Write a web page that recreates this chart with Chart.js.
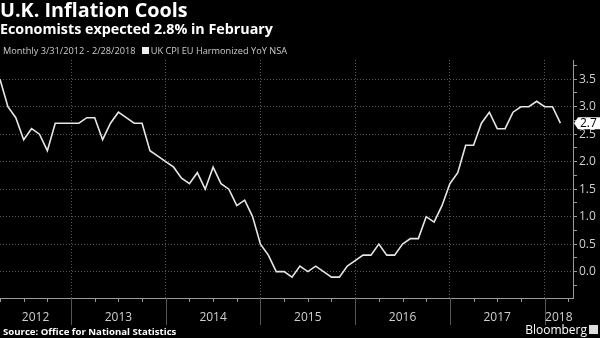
<!DOCTYPE html>
<html>
<head>
<meta charset="utf-8">
<script src="https://cdn.jsdelivr.net/npm/chart.js@4.4.1/dist/chart.umd.min.js"></script>
<style>
  body { margin: 0; background: #000; }
  #wrap { position: relative; width: 600px; height: 338px; background: #000; overflow: hidden; font-family: "Open Sans", sans-serif; color: #fff; }
  #wrap canvas { position: absolute; left: 0; top: 0; }
  .txt { position: absolute; white-space: nowrap; }
  #title { left: 0; top: 0; font-size: 19.8px; line-height: 19px; font-weight: 700; }
  #subtitle { left: 0; top: 22px; font-size: 14.3px; line-height: 14px; font-weight: 700; }
  #legend { left: 3px; top: 45px; font-size: 9.2px; line-height: 11px; color: #ccc; }
  #legend .sq { display: inline-block; width: 7px; height: 7px; background: #eee; margin: 0 2px 0 4px; }
  #source { left: 3px; top: 326px; font-size: 9.6px; line-height: 11px; font-weight: 700; }
  #brand { right: 13px; top: 323px; font-size: 12px; line-height: 14px; }
  #logo { position: absolute; right: 2px; top: 325px; width: 9px; height: 9px; background: #ddd; }
</style>
</head>
<body>
<div id="wrap">
  <canvas id="chart1" width="600" height="338"></canvas>
  <div class="txt" id="title">U.K. Inflation Cools</div>
  <div class="txt" id="subtitle">Economists expected 2.8% in February</div>
  <div class="txt" id="legend">Monthly 3/31/2012 - 2/28/2018 <span class="sq"></span>UK CPI EU Harmonized YoY NSA</div>
  <div class="txt" id="source">Source: Office for National Statistics</div>
  <div class="txt" id="brand">Bloomberg</div>
  <div id="logo"></div>
</div>
<script>
/************* data ********* */
// UK CPI YoY %, monthly Mar 2012 - Feb 2018
const cpi = [
    3.5, 3.0, 2.8, 2.4, 2.6, 2.5, 2.2, 2.7, 2.7, 2.7,             // 2012 Mar-Dec
    2.7, 2.8, 2.8, 2.4, 2.7, 2.9, 2.8, 2.7, 2.7, 2.2, 2.1, 2.0,   // 2013
    1.9, 1.7, 1.6, 1.8, 1.5, 1.9, 1.6, 1.5, 1.2, 1.3, 1.0, 0.5,   // 2014
    0.3, 0.0, 0.0, -0.1, 0.1, 0.0, 0.1, 0.0, -0.1, -0.1, 0.1, 0.2, // 2015
    0.3, 0.3, 0.5, 0.3, 0.3, 0.5, 0.6, 0.6, 1.0, 0.9, 1.2, 1.6,   // 2016
    1.8, 2.3, 2.3, 2.7, 2.9, 2.6, 2.6, 2.9, 3.0, 3.0, 3.1, 3.0,   // 2017
    3.0, 2.7                                                       // 2018 Jan-Feb
];
const years = ["2012", "2013", "2014", "2015", "2016", "2017", "2018"];
const firstMonth = 3; // March
const yTicks = [-0.25, 0, 0.25, 0.5, 0.75, 1, 1.25, 1.5, 1.75, 2, 2.25, 2.5, 2.75, 3, 3.25, 3.5, 3.75];

const lineColor = '#e6e6e6';
const gridColor = '#575757';
const axisColor = '#9a9a9a';
const labelColor = '#cfcfcf';

// index of each December point (year boundary)
const yearEnds = years.slice(0, -1).map((_, k) => 12 - firstMonth + 12 * k);
const isMajor = v => Math.abs(v * 2 - Math.round(v * 2)) < 1e-9;

/************* decorations under the x axis + last value tag ********* */
const axisDecor = {
    id: 'axisDecor',
    afterDraw(chart) {
        const {ctx, chartArea: a, scales: {x, y}} = chart;
        ctx.save();
        ctx.lineWidth = 1;

        // quarterly ticks
        ctx.strokeStyle = axisColor;
        for (let i = 0; i <= cpi.length; i += 3) {
            const px = Math.round(x.getPixelForValue(i)) + 0.5;
            ctx.beginPath();
            ctx.moveTo(px, a.bottom);
            ctx.lineTo(px, a.bottom + 4);
            ctx.stroke();
        }

        // year separators
        ctx.strokeStyle = '#555';
        yearEnds.forEach(v => {
            const px = Math.round(x.getPixelForValue(v)) + 0.5;
            ctx.beginPath();
            ctx.moveTo(px, a.bottom);
            ctx.lineTo(px, a.bottom + 27);
            ctx.stroke();
        });

        // year labels centred in their visible span
        ctx.fillStyle = labelColor;
        ctx.font = '12px "Open Sans", sans-serif';
        ctx.textAlign = 'center';
        ctx.textBaseline = 'middle';
        const edges = [a.left, ...yearEnds.map(v => x.getPixelForValue(v)), a.right];
        years.forEach((yr, k) => {
            ctx.fillText(yr, (edges[k] + edges[k + 1]) / 2, a.bottom + 20);
        });

        // last value tag
        const last = cpi[cpi.length - 1];
        const py = y.getPixelForValue(last);
        const bx = a.right + 5;
        ctx.fillStyle = '#fff';
        ctx.beginPath();
        ctx.moveTo(a.right + 1, py);
        ctx.lineTo(bx, py - 6);
        ctx.lineTo(chart.width, py - 6);
        ctx.lineTo(chart.width, py + 6);
        ctx.lineTo(bx, py + 6);
        ctx.closePath();
        ctx.fill();
        ctx.fillStyle = '#000';
        ctx.textAlign = 'left';
        ctx.font = '12px "Open Sans", sans-serif';
        ctx.fillText(last.toFixed(1), bx + 2, py + 0.5);
        ctx.restore();
    }
};

new Chart("chart1", {
    type: "line",
    data: {
        datasets: [{
            data: cpi.map((v, i) => ({x: i, y: v})),
            borderColor: lineColor,
            borderWidth: 1.6,
            pointRadius: 0,
            tension: 0,
            clip: false
        }]
    },
    options: {
        responsive: false,
        animation: false,
        devicePixelRatio: 1,
        layout: {padding: {top: 60, bottom: 40, left: 0, right: 0}},
        plugins: {
            legend: {display: false},
            tooltip: {enabled: false}
        },
        scales: {
            x: {
                type: 'linear',
                min: 0,
                max: 72.6,
                afterBuildTicks: s => { s.ticks = yearEnds.map(v => ({value: v})); },
                ticks: {display: false},
                grid: {color: gridColor, drawTicks: false},
                border: {display: true, color: axisColor, dash: [1, 2]}
            },
            y: {
                position: 'right',
                min: -0.48,
                max: 3.85,
                afterBuildTicks: s => { s.ticks = yTicks.map(v => ({value: v})); },
                afterFit: s => { s.width = 27; },
                ticks: {
                    autoSkip: false,
                    color: labelColor,
                    font: {size: 12, family: '"Open Sans", sans-serif'},
                    padding: 2,
                    callback: v => isMajor(v) ? v.toFixed(1) : ''
                },
                grid: {
                    color: c => isMajor(c.tick.value) ? gridColor : 'transparent',
                    tickColor: axisColor,
                    tickLength: 4,
                    tickBorderDash: []
                },
                border: {display: true, color: axisColor, dash: [1, 2]}
            }
        }
    },
    plugins: [axisDecor]
});
</script>
</body>
</html>
